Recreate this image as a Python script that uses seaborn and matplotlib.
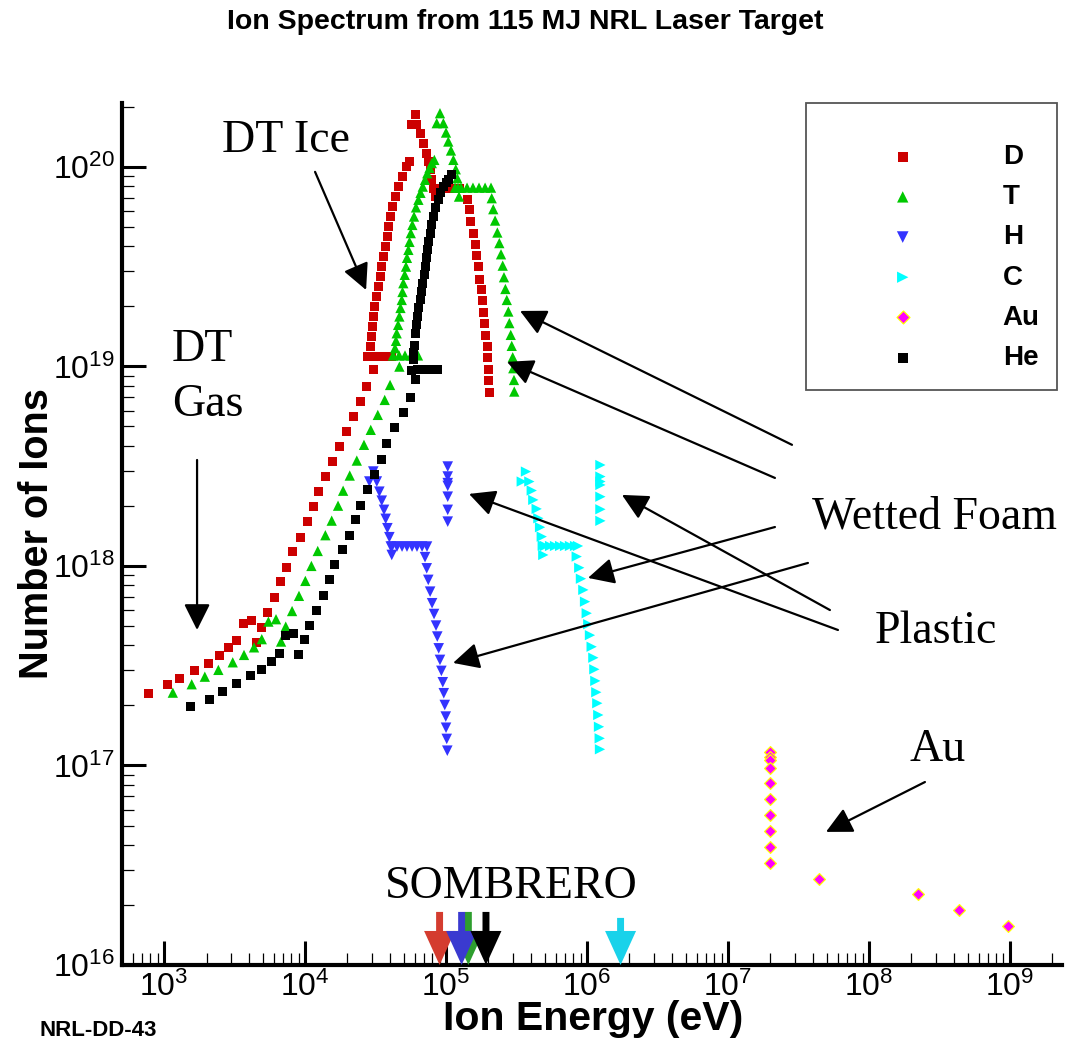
import numpy as np
import pandas as pd
import matplotlib
matplotlib.use("Agg")
import matplotlib.pyplot as plt
from matplotlib.patches import Rectangle
from matplotlib.ticker import LogLocator, NullFormatter
import seaborn as sns

# === DATA (log10 values) ===
# D: DT gas, DT ice, wetted foam
d_log_e = [2.889, 3.023, 3.109, 3.215, 3.314, 3.392, 3.456, 3.513, 3.562, 3.619, 3.655, 3.690, 3.733,
           3.782, 3.825, 3.867, 3.910, 3.967, 4.016, 4.059, 4.094, 4.144, 4.194, 4.243, 4.293, 4.343,
           4.392, 4.435, 4.484,
           4.440, 4.475, 4.511, 4.546, 4.582, 4.610,
           4.454, 4.461, 4.472, 4.479, 4.486, 4.496, 4.507, 4.518, 4.532, 4.544, 4.557, 4.570, 4.582,
           4.592, 4.604, 4.621, 4.642, 4.663, 4.688, 4.720, 4.740,
           4.780, 4.757, 4.792, 4.816, 4.839, 4.858, 4.874, 4.887, 4.899, 4.910, 4.922,
           4.908, 4.957, 5.007, 5.057, 5.099,
           5.154, 5.165, 5.175, 5.194, 5.206, 5.213, 5.229, 5.236, 5.250, 5.257, 5.265, 5.274, 5.279,
           5.291, 5.293, 5.298, 5.303, 5.307]
d_log_n = [17.362, 17.404, 17.437, 17.474, 17.513, 17.552, 17.589, 17.628, 17.713, 17.729, 17.618,
           17.693, 17.768, 17.843, 17.920, 17.993, 18.074, 18.144, 18.224, 18.299, 18.374, 18.450,
           18.525, 18.600, 18.675, 18.750, 18.826, 18.901, 18.986,
           19.048, 19.048, 19.048, 19.048, 19.048, 19.048,
           19.048, 19.098, 19.148, 19.198, 19.248, 19.298, 19.348, 19.398, 19.449, 19.499, 19.549,
           19.599, 19.649, 19.699, 19.749, 19.799, 19.850, 19.900, 19.950, 20.003, 20.028,
           20.261, 20.211, 20.211, 20.169, 20.119, 20.069, 20.027, 19.987, 19.935, 19.893, 19.851,
           19.893, 19.893, 19.893, 19.893, 19.893,
           19.838, 19.784, 19.726, 19.668, 19.612, 19.556, 19.500, 19.437, 19.383, 19.328, 19.270,
           19.213, 19.156, 19.099, 19.044, 18.986, 18.927, 18.871]

# T
t_log_e = [3.062, 3.196, 3.289, 3.385, 3.487, 3.567, 3.638, 3.693, 3.740, 3.794, 3.830, 3.863, 3.908,
           3.957, 4.002, 4.045, 4.090, 4.144, 4.189, 4.234, 4.270, 4.317, 4.367, 4.418, 4.466, 4.516,
           4.565, 4.603, 4.669,
           4.624, 4.667, 4.709, 4.752, 4.801,
           4.638, 4.645, 4.650, 4.660, 4.669, 4.677, 4.686, 4.691, 4.697, 4.707, 4.716, 4.723, 4.733,
           4.741, 4.750, 4.761, 4.773, 4.787, 4.804, 4.819, 4.835, 4.851, 4.867, 4.883, 4.899, 4.917,
           4.957, 4.934, 4.981, 5.000, 5.016, 5.035, 5.052, 5.069, 5.080, 5.085, 5.092,
           5.064, 5.106, 5.149, 5.191, 5.234, 5.277, 5.319,
           5.324, 5.335, 5.348, 5.364, 5.378, 5.390, 5.402, 5.411, 5.421, 5.431, 5.442, 5.449, 5.459,
           5.466, 5.473, 5.477, 5.482, 5.484]
t_log_n = [17.365, 17.407, 17.445, 17.479, 17.517, 17.554, 17.592, 17.633, 17.721, 17.733, 17.621,
           17.696, 17.774, 17.850, 17.925, 18.000, 18.075, 18.154, 18.227, 18.302, 18.377, 18.453,
           18.528, 18.607, 18.682, 18.757, 18.832, 18.907, 18.999,
           19.055, 19.055, 19.055, 19.055, 19.055,
           19.091, 19.128, 19.166, 19.208, 19.250, 19.293, 19.333, 19.373, 19.417, 19.459, 19.500,
           19.544, 19.584, 19.624, 19.668, 19.709, 19.751, 19.797, 19.835, 19.870, 19.901, 19.935,
           19.968, 19.995, 20.019, 20.035,
           20.269, 20.219, 20.219, 20.172, 20.127, 20.082, 20.035, 19.988, 19.943, 19.895, 19.851,
           19.896, 19.896, 19.896, 19.896, 19.896, 19.896, 19.896,
           19.843, 19.788, 19.731, 19.671, 19.618, 19.562, 19.505, 19.447, 19.388, 19.333, 19.275,
           19.217, 19.158, 19.103, 19.046, 18.991, 18.932, 18.874]

# H: wetted foam, plastic
h_log_e = [4.484, 4.456, 4.509, 4.527, 4.544, 4.560, 4.572, 4.584, 4.598, 4.608, 4.615,
           4.617, 4.652, 4.688, 4.723, 4.759, 4.794, 4.830, 4.865,
           4.851, 4.863, 4.874, 4.887, 4.901, 4.915, 4.929, 4.938, 4.948, 4.957, 4.967, 4.977, 4.984,
           4.991, 4.998, 5.000, 5.005, 5.009,
           5.012, 5.012, 5.012, 5.012, 5.012, 5.012, 5.012]
h_log_n = [18.473, 18.423, 18.423, 18.372, 18.327, 18.281, 18.236, 18.189, 18.144, 18.097, 18.055,
           18.097, 18.097, 18.097, 18.097, 18.097, 18.097, 18.097, 18.097,
           18.044, 17.988, 17.930, 17.871, 17.813, 17.759, 17.701, 17.646, 17.587, 17.529, 17.474,
           17.417, 17.362, 17.303, 17.245, 17.189, 17.133, 17.074,
           18.498, 18.448, 18.415, 18.401, 18.347, 18.281, 18.222]

# C: wetted foam, plastic
c_log_e = [5.567, 5.537, 5.591, 5.608, 5.619, 5.643, 5.655, 5.667, 5.679, 5.686, 5.690,
           5.702, 5.738, 5.773, 5.809, 5.844, 5.879, 5.915, 5.936,
           5.927, 5.945, 5.957, 5.974, 5.986, 5.998, 6.009, 6.021, 6.033, 6.045, 6.052, 6.059, 6.066,
           6.073, 6.080, 6.085, 6.090, 6.092,
           6.095, 6.095, 6.095, 6.095, 6.095, 6.095, 6.095]
c_log_n = [18.473, 18.423, 18.423, 18.378, 18.331, 18.286, 18.239, 18.194, 18.147, 18.102, 18.055,
           18.100, 18.100, 18.100, 18.100, 18.100, 18.100, 18.100, 18.100,
           18.047, 17.991, 17.936, 17.880, 17.821, 17.763, 17.708, 17.653, 17.595, 17.540, 17.482,
           17.424, 17.367, 17.312, 17.253, 17.194, 17.136, 17.081,
           18.506, 18.448, 18.423, 18.406, 18.347, 18.284, 18.226]

# Au
au_log_e = [7.298, 7.298, 7.298, 7.298, 7.298, 7.298, 7.298, 7.298, 7.298, 7.298,
            7.645, 8.345, 8.636, 8.988]
au_log_n = [17.069, 17.044, 17.028, 16.986, 16.911, 16.831, 16.752, 16.673, 16.593, 16.513,
            16.431, 16.356, 16.276, 16.195]

# He
he_log_e = [3.184, 3.321, 3.413, 3.513, 3.612, 3.693, 3.761, 3.821, 3.863, 3.917, 3.952, 3.993, 4.030,
            4.083, 4.130, 4.172, 4.208, 4.265, 4.314, 4.357, 4.390, 4.442, 4.491, 4.541, 4.579, 4.638,
            4.695, 4.745,
            4.801, 4.844, 4.887, 4.936,
            4.757, 4.780, 4.768, 4.770, 4.773, 4.780, 4.787, 4.796, 4.806, 4.816, 4.825, 4.835, 4.844,
            4.851, 4.858, 4.867, 4.877, 4.887, 4.899, 4.910, 4.926, 4.945, 4.962, 4.981, 5.000, 5.016,
            5.040]
he_log_n = [17.298, 17.332, 17.370, 17.409, 17.449, 17.482, 17.520, 17.559, 17.649, 17.663, 17.554,
            17.629, 17.703, 17.779, 17.853, 17.930, 18.005, 18.080, 18.155, 18.234, 18.304, 18.384,
            18.460, 18.535, 18.612, 18.692, 18.767, 18.842,
            18.986, 18.986, 18.986, 18.986,
            18.982, 18.932, 19.033, 19.068, 19.103, 19.166, 19.208, 19.250, 19.293, 19.333, 19.373,
            19.417, 19.459, 19.500, 19.544, 19.584, 19.624, 19.668, 19.709, 19.751, 19.797, 19.835,
            19.870, 19.901, 19.920, 19.935, 19.960]

species = ["D", "T", "H", "C", "Au", "He"]
series = {"D": (d_log_e, d_log_n), "T": (t_log_e, t_log_n), "H": (h_log_e, h_log_n),
          "C": (c_log_e, c_log_n), "Au": (au_log_e, au_log_n), "He": (he_log_e, he_log_n)}

# SOMBRERO chamber arrows (energy in eV)
sombrero_energy = [9.0e4, 1.44e5, 1.29e5, 1.92e5, 1.73e6]
sombrero_colors = ["#d43c2f", "#2e9e2e", "#3a3ad0", "#000000", "#19d2ea"]

# tick decades
x_decades = [3, 4, 5, 6, 7, 8, 9]
y_decades = [16, 17, 18, 19, 20]

# === STYLE ===
styles = {
    "D": dict(marker="s", color="#cc0000", s=42, edgecolor="none", linewidth=0),
    "T": dict(marker="^", color="#00c800", s=55, edgecolor="none", linewidth=0),
    "H": dict(marker="v", color="#3333ff", s=58, edgecolor="none", linewidth=0),
    "C": dict(marker=">", color="#00ffff", s=55, edgecolor="none", linewidth=0),
    "Au": dict(marker="D", color="#ff00ff", s=36, edgecolor="#ffff00", linewidth=0.9),
    "He": dict(marker="s", color="#000000", s=42, edgecolor="none", linewidth=0),
}

frames = []
for sp in species:
    le, ln = series[sp]
    frames.append(pd.DataFrame({"species": sp,
                                "energy": 10.0 ** np.array(le),
                                "ions": 10.0 ** np.array(ln)}))
df = pd.concat(frames, ignore_index=True)

sns.set_style("white")
plt.rcParams["font.family"] = ["Liberation Sans", "DejaVu Sans"]
plt.rcParams["mathtext.default"] = "regular"
for key in ["text.color", "axes.labelcolor", "xtick.color", "ytick.color"]:
    plt.rcParams[key] = "black"

fig = plt.figure(figsize=(10.72, 10.47), dpi=100)
ax = fig.add_axes([122 / 1072, 1 - 965 / 1047, 940 / 1072, 862 / 1047])
ax.set_xscale("log")
ax.set_yscale("log")

for i, sp in enumerate(species):
    sns.scatterplot(data=df[df["species"] == sp], x="energy", y="ions", ax=ax,
                    label=sp, zorder=3 + i, **styles[sp])

# axes / ticks
for side in ["top", "right"]:
    ax.spines[side].set_visible(False)
for side in ["left", "bottom"]:
    ax.spines[side].set_linewidth(3)
    ax.spines[side].set_color("black")

ax.set_xticks([10.0 ** d for d in x_decades])
ax.set_yticks([10.0 ** d for d in y_decades])
ax.xaxis.set_minor_locator(LogLocator(base=10, subs=np.arange(2, 10), numticks=100))
ax.yaxis.set_minor_locator(LogLocator(base=10, subs=np.arange(2, 10), numticks=100))
ax.xaxis.set_minor_formatter(NullFormatter())
ax.yaxis.set_minor_formatter(NullFormatter())
ax.set_xlim(503, 2.34e9)
ax.set_ylim(1e16, 2.09e20)
ax.tick_params(which="major", direction="in", length=17, width=2.2, labelsize=23, pad=5,
               bottom=True, left=True, top=False, right=False, color="black", labelcolor="black")
ax.tick_params(which="minor", direction="in", length=8.5, width=0.9,
               bottom=True, left=True, top=False, right=False, color="black")

ax.set_xlabel("Ion Energy (eV)", fontsize=29.5, fontweight="bold", color="black")
ax.xaxis.set_label_coords(0.501, -0.041)
ax.set_ylabel("Number of Ions", fontsize=28.5, fontweight="bold", color="black")
ax.yaxis.set_label_coords(-0.07, 0.5)

# legend with a square frame
handles, labels = ax.get_legend_handles_labels()
ax.legend(handles, labels, loc="upper left", bbox_to_anchor=(0.801, 0.9524), frameon=False,
          borderaxespad=0, borderpad=0, handlelength=2, handletextpad=2.6, labelspacing=0.51,
          markerscale=1.1, labelcolor="black",
          prop=dict(family="Liberation Sans", weight="bold", size=20))
ax.add_patch(Rectangle((0.7277, 0.667), 0.267, 0.333, transform=ax.transAxes, fill=False,
                       edgecolor="#555555", linewidth=1.3, clip_on=False, zorder=10))

# annotations
serif = dict(family="Liberation Serif", fontsize=33, color="black")
ax.text(10 ** 3.411, 10 ** 20.130, "DT Ice", va="center", ha="left", **serif)
ax.text(10 ** 3.057, 10 ** 18.945, "DT\nGas", va="center", ha="left", linespacing=1.38, **serif)
ax.text(10 ** 7.596, 10 ** 18.246, "Wetted Foam", va="center", ha="left", **serif)
ax.text(10 ** 8.043, 10 ** 17.669, "Plastic", va="center", ha="left", **serif)
ax.text(10 ** 8.291, 10 ** 17.078, "Au", va="center", ha="left", **serif)
ax.text(10 ** 4.567, 10 ** 16.391, "SOMBRERO", va="center", ha="left", **serif)

pointer = dict(arrowstyle="-|>,head_length=0.8,head_width=0.4", color="black", lw=1.6,
               mutation_scale=20, shrinkA=0, shrinkB=0)
arrows = [
    ((4.433, 19.383), (4.071, 19.975)),   # DT Ice
    ((3.234, 17.679), (3.234, 18.531)),   # DT Gas
    ((5.525, 19.278), (7.454, 18.607)),   # wetted foam
    ((5.433, 19.023), (7.333, 18.441)),
    ((6.007, 17.940), (7.333, 18.195)),
    ((5.050, 17.514), (7.567, 18.015)),
    ((5.163, 18.361), (7.780, 17.679)),   # plastic
    ((6.248, 18.356), (7.723, 17.779)),
    ((7.695, 16.667), (8.397, 16.917)),   # Au
]
for tip, tail in arrows:
    ax.annotate("", xy=(10 ** tip[0], 10 ** tip[1]), xytext=(10 ** tail[0], 10 ** tail[1]),
                arrowprops=pointer, annotation_clip=False, zorder=8)

for e, c in zip(sombrero_energy, sombrero_colors):
    top = 10 ** 16.236 if c == "#19d2ea" else 10 ** 16.266
    ax.annotate("", xy=(e, 1e16), xytext=(e, top), annotation_clip=False, zorder=9,
                arrowprops=dict(arrowstyle="simple,head_length=2.45,head_width=2.23,tail_width=0.5",
                                fc=c, ec="none", lw=0, mutation_scale=10, shrinkA=0, shrinkB=0))

fig.text(0.49, 0.979, "Ion Spectrum from 115 MJ NRL Laser Target", ha="center", va="center",
         fontsize=20.5, fontweight="bold", color="black")
fig.text(0.037, 0.016, "NRL-DD-43", ha="left", va="center", fontsize=16, fontweight="bold",
         color="black")

fig.savefig("out.png", dpi=100)
